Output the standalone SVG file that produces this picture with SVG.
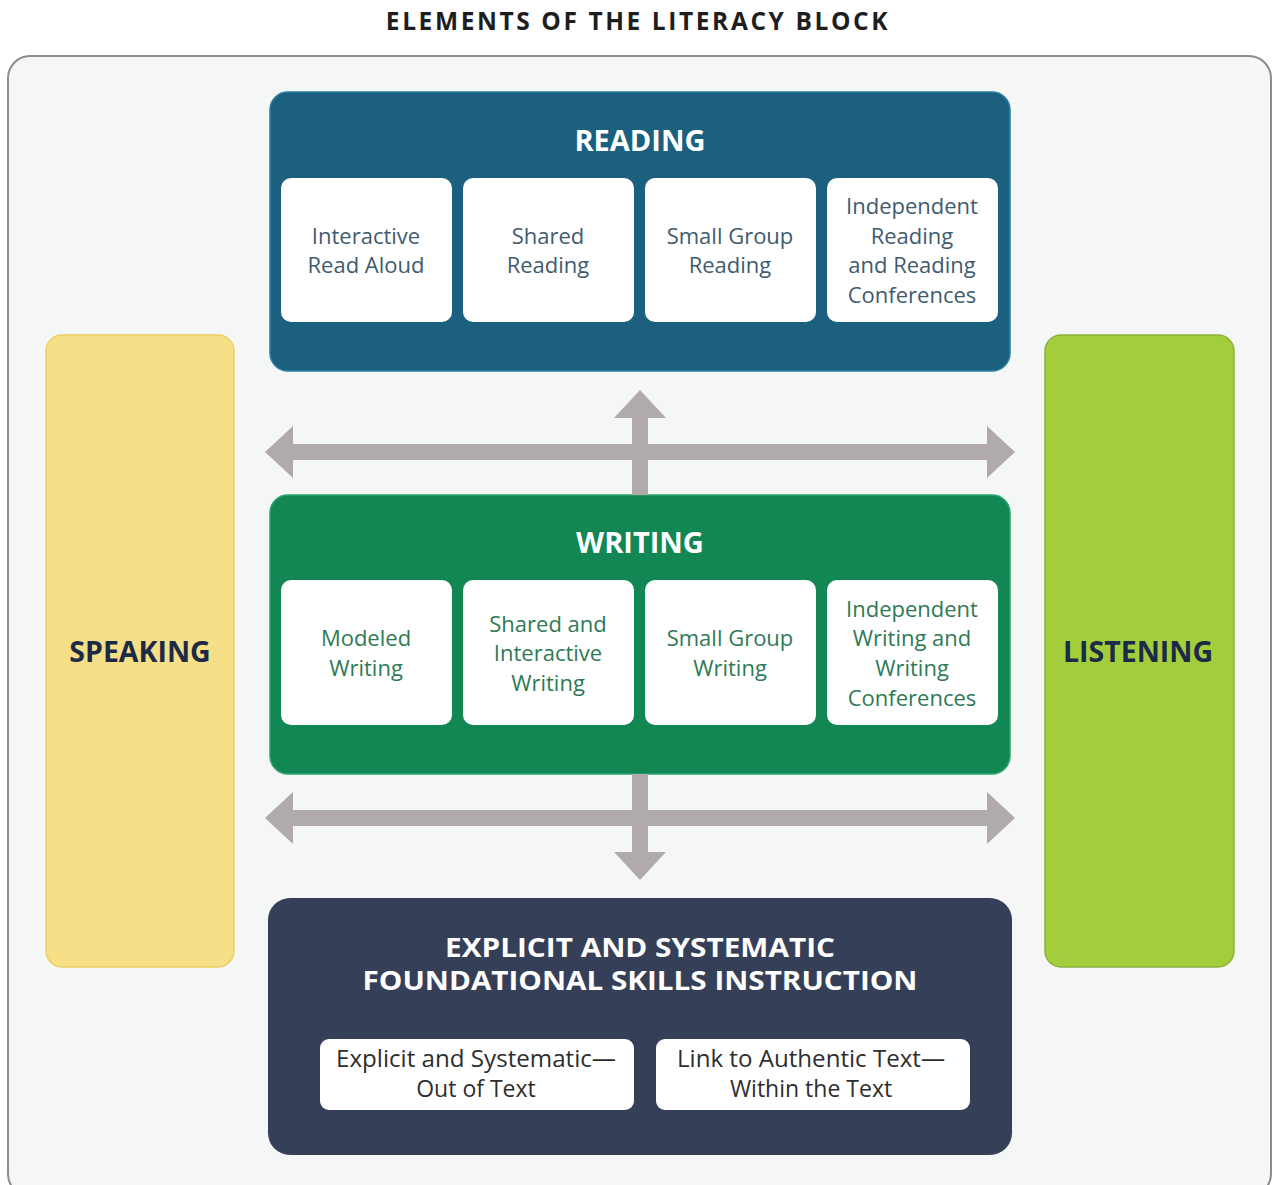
<svg xmlns="http://www.w3.org/2000/svg" width="1274" height="1185" viewBox="0 0 1274 1185">
<style>
  .title{font-family:"Open Sans","Liberation Sans",sans-serif;font-weight:700;font-size:24.5px;fill:#1e1e1e;letter-spacing:2.6px;text-anchor:middle}
  .head{font-family:"Open Sans","Liberation Sans",sans-serif;font-weight:700;font-size:29px;fill:#ffffff;text-anchor:middle}
  .ftitle{font-family:"Open Sans","Liberation Sans",sans-serif;font-weight:700;font-size:26px;fill:#ffffff;text-anchor:middle}
  .side{font-family:"Open Sans","Liberation Sans",sans-serif;font-weight:700;font-size:28.5px;fill:#1c2a48;text-anchor:middle}
  .card{fill:#ffffff}
  .rt{font-family:"Open Sans","Liberation Sans",sans-serif;font-weight:400;font-size:22px;fill:#3f5b6e;text-anchor:middle}
  .wt{font-family:"Open Sans","Liberation Sans",sans-serif;font-weight:400;font-size:22px;fill:#2f7a55;text-anchor:middle}
  .ft{font-family:"Open Sans","Liberation Sans",sans-serif;font-weight:400;font-size:23px;fill:#2e2e2e;text-anchor:middle}
  .arrow{fill:#b1aaaa}
</style>
<rect width="1274" height="1185" fill="#ffffff"/>
<text class="title" x="638" y="30">ELEMENTS OF THE LITERACY BLOCK</text>
<rect id="frame" x="8" y="56" width="1263" height="1140" rx="22" fill="#f5f6f6" stroke="#8c8c8c" stroke-width="2"/>

<g id="speaking">
  <rect x="46" y="335" width="188" height="632" rx="16" fill="#f6df86" stroke="#ebd063" stroke-width="1.5"/>
  <text class="side" x="140" y="662">SPEAKING</text>
</g>
<g id="listening">
  <rect x="1045" y="335" width="189" height="632" rx="16" fill="#a3ce3c" stroke="#8fb23d" stroke-width="1.5"/>
  <text class="side" x="1138" y="662">LISTENING</text>
</g>

<g id="reading">
  <rect x="270" y="92" width="740" height="279" rx="18" fill="#1c6080" stroke="#2a7da0" stroke-width="1.5"/>
  <text class="head" x="640" y="151">READING</text>
  <rect class="card" x="281" y="178" width="171" height="144" rx="10"/>
  <rect class="card" x="463" y="178" width="171" height="144" rx="10"/>
  <rect class="card" x="645" y="178" width="171" height="144" rx="10"/>
  <rect class="card" x="827" y="178" width="171" height="144" rx="10"/>
  <text class="rt" x="366" y="244">Interactive</text>
  <text class="rt" x="366" y="273">Read Aloud</text>
  <text class="rt" x="548" y="244">Shared</text>
  <text class="rt" x="548" y="273">Reading</text>
  <text class="rt" x="730" y="244">Small Group</text>
  <text class="rt" x="730" y="273">Reading</text>
  <text class="rt" x="912" y="214">Independent</text>
  <text class="rt" x="912" y="244">Reading</text>
  <text class="rt" x="912" y="273">and Reading</text>
  <text class="rt" x="912" y="303">Conferences</text>
</g>

<g id="writing">
  <rect x="270" y="495" width="740" height="279" rx="18" fill="#128753" stroke="#2aa56c" stroke-width="1.5"/>
  <text class="head" x="640" y="553">WRITING</text>
  <rect class="card" x="281" y="580" width="171" height="145" rx="10"/>
  <rect class="card" x="463" y="580" width="171" height="145" rx="10"/>
  <rect class="card" x="645" y="580" width="171" height="145" rx="10"/>
  <rect class="card" x="827" y="580" width="171" height="145" rx="10"/>
  <text class="wt" x="366" y="646">Modeled</text>
  <text class="wt" x="366" y="676">Writing</text>
  <text class="wt" x="548" y="632">Shared and</text>
  <text class="wt" x="548" y="661">Interactive</text>
  <text class="wt" x="548" y="691">Writing</text>
  <text class="wt" x="730" y="646">Small Group</text>
  <text class="wt" x="730" y="676">Writing</text>
  <text class="wt" x="912" y="617">Independent</text>
  <text class="wt" x="912" y="646">Writing and</text>
  <text class="wt" x="912" y="676">Writing</text>
  <text class="wt" x="912" y="706">Conferences</text>
</g>

<g id="foundational">
  <rect x="268" y="898" width="744" height="257" rx="22" fill="#363f58"/>
  <text class="ftitle" x="640" y="957" textLength="390" lengthAdjust="spacingAndGlyphs">EXPLICIT AND SYSTEMATIC</text>
  <text class="ftitle" x="640" y="990" textLength="555" lengthAdjust="spacingAndGlyphs">FOUNDATIONAL SKILLS INSTRUCTION</text>
  <rect class="card" x="320" y="1039" width="314" height="71" rx="9"/>
  <rect class="card" x="656" y="1039" width="314" height="71" rx="9"/>
  <text class="ft" x="476" y="1067" textLength="280" lengthAdjust="spacingAndGlyphs">Explicit and Systematic—</text>
  <text class="ft" x="476" y="1097">Out of Text</text>
  <text class="ft" x="811" y="1067" textLength="268" lengthAdjust="spacingAndGlyphs">Link to Authentic Text—</text>
  <text class="ft" x="811" y="1097">Within the Text</text>
</g>

<g id="connectors">
  <polygon class="arrow" points="265,452 293,426 293,444 987,444 987,426 1015,452 987,478 987,460 293,460 293,478"/>
  <polygon class="arrow" points="640,390 666,418 648,418 648,495 632,495 632,418 614,418"/>
  <polygon class="arrow" points="265,818 293,792 293,810 987,810 987,792 1015,818 987,844 987,826 293,826 293,844"/>
  <polygon class="arrow" points="632,774 648,774 648,852 666,852 640,880 614,852 632,852"/>
</g>
</svg>
